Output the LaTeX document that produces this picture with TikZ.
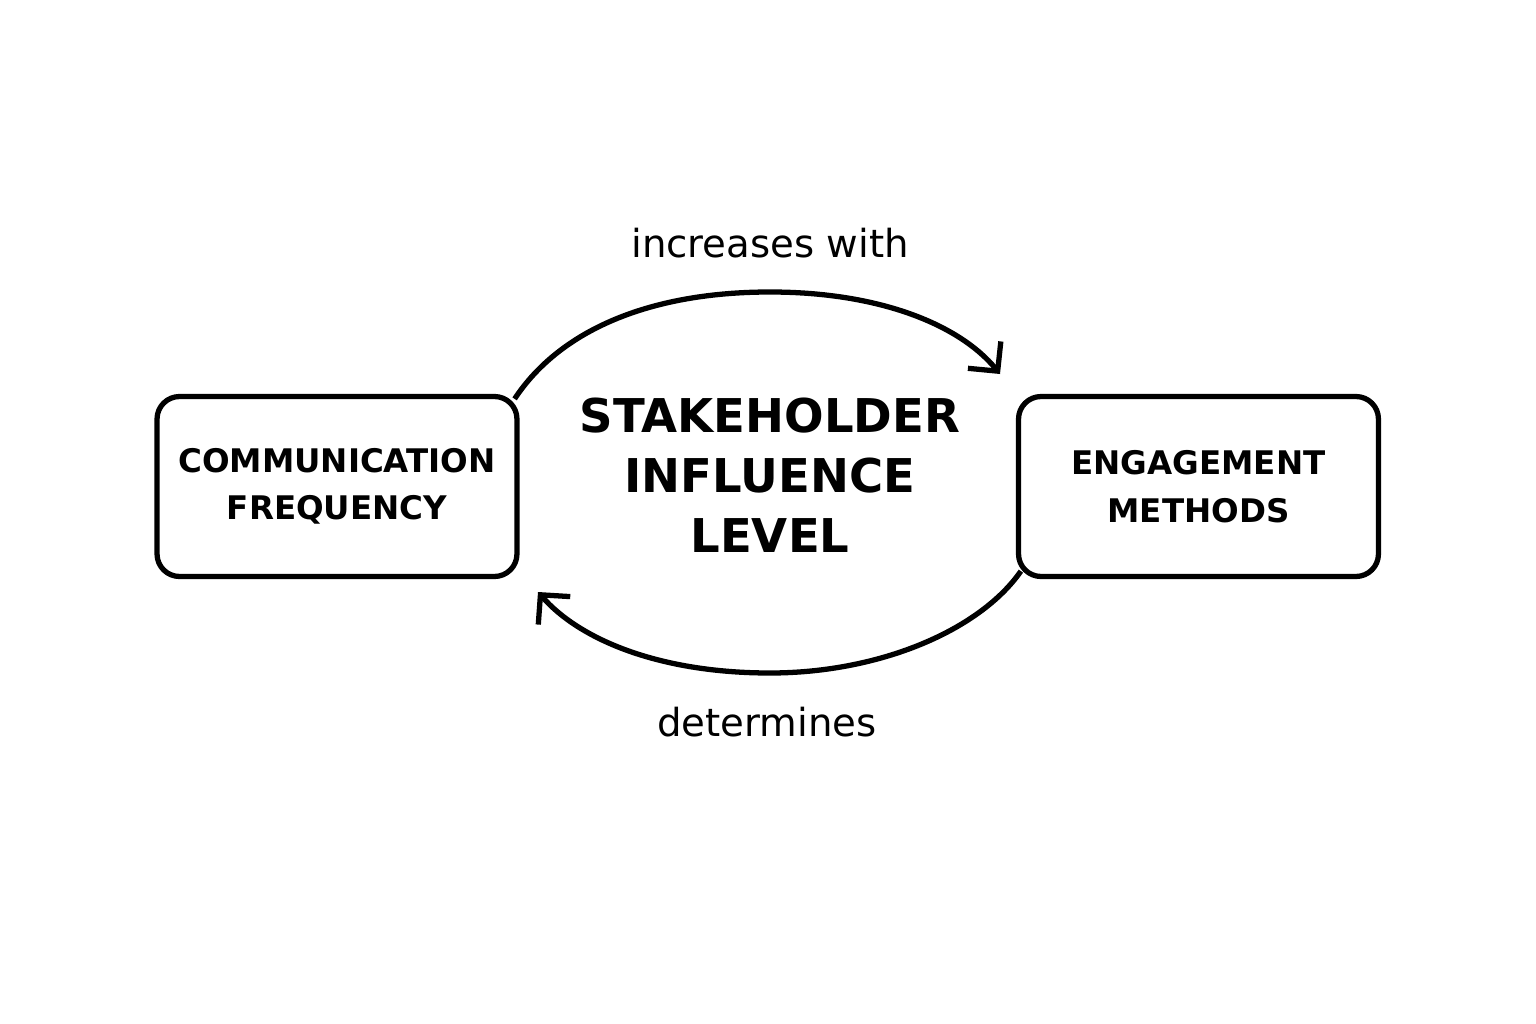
\documentclass[tikz,border=0pt]{standalone}
\usepackage{fontspec}
\setmainfont{DejaVu Sans}
\usetikzlibrary{arrows.meta}
\begin{document}
\begin{tikzpicture}[x=0.02cm,y=-0.02cm,
  box/.style={draw,line width=3pt,rounded corners=0.45cm,minimum width=7.2cm,minimum height=3.6cm,align=center,font=\bfseries\fontsize{18.5}{27}\selectfont},
  arc/.style={line width=3pt,-{Straight Barb[length=0.42cm,width=0.85cm,line width=3pt]}},
  lbl/.style={font=\fontsize{22}{25}\selectfont}]
\fill[white] (0,0) rectangle (1536,1024);
\node[box] (L) at (337,486.5) {COMMUNICATION\\FREQUENCY};
\node[box] (R) at (1198.5,486.5) {ENGAGEMENT\\METHODS};
\node[align=center,font=\bfseries\fontsize{26.5}{34}\selectfont] (C) at (770,475) {STAKEHOLDER\\INFLUENCE\\LEVEL};
\coordinate (a1) at (1000,374);
\coordinate (b1) at (538,592);
\draw[arc] (L.north east) ++(-5,5) .. controls (560,330) and (650,292) .. (770,292) .. controls (880,292) and (960,325) .. (a1);
\draw[arc] (R.south west) ++(5,-8) .. controls (980,630) and (880,673) .. (770,673) .. controls (660,673) and (580,640) .. (b1);
\node[lbl] (t1) at (770,243) {increases with};
\node[lbl] (t2) at (767,722) {determines};
\end{tikzpicture}
\end{document}
